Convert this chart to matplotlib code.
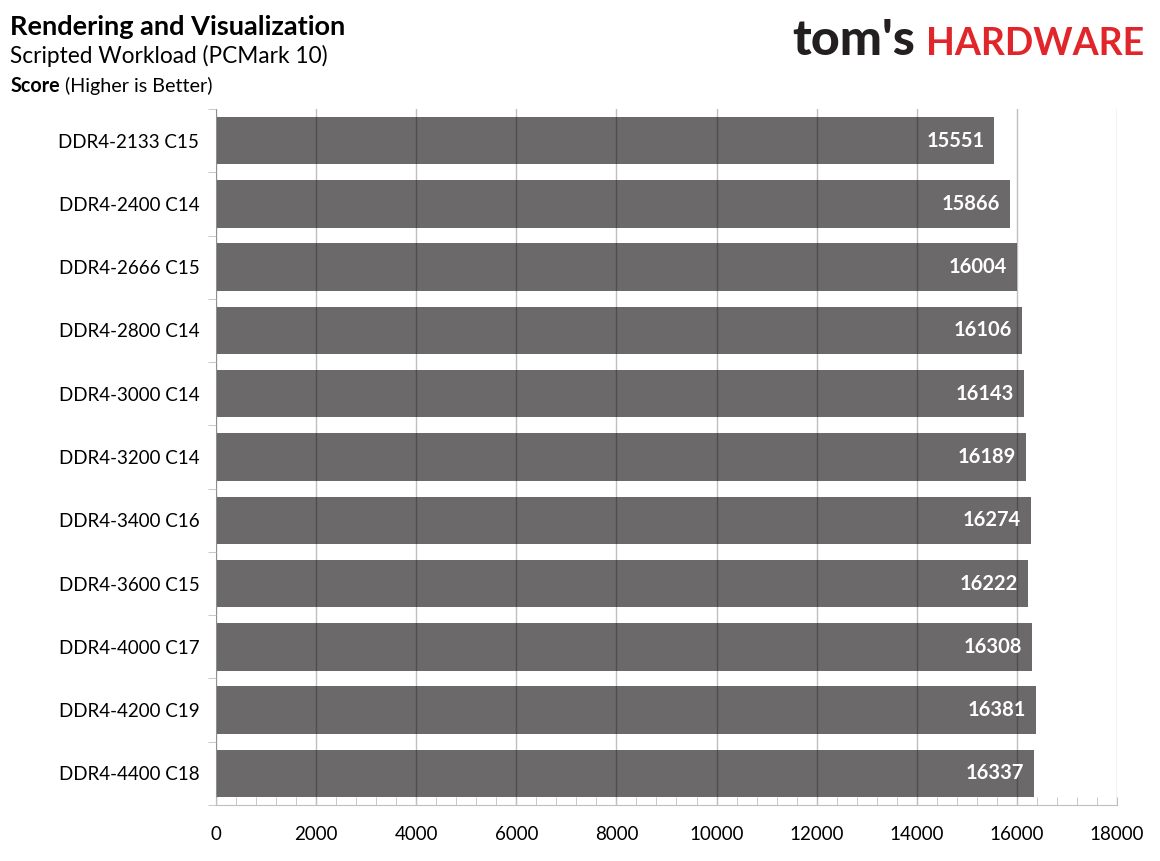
import matplotlib.pyplot as plt
import numpy as np
from matplotlib.ticker import MultipleLocator

plt.rcParams['font.family'] = ['Lato', 'DejaVu Sans']

modules = [
    "DDR4-2133 C15", "DDR4-2400 C14", "DDR4-2666 C15", "DDR4-2800 C14",
    "DDR4-3000 C14", "DDR4-3200 C14", "DDR4-3400 C16", "DDR4-3600 C15",
    "DDR4-4000 C17", "DDR4-4200 C19", "DDR4-4400 C18",
]
scores = [15551, 15866, 16004, 16106, 16143, 16189, 16274, 16222, 16308, 16381, 16337]
x_ticks = [0, 2000, 4000, 6000, 8000, 10000, 12000, 14000, 16000, 18000]

bar_color = "#6b6969"
axis_grey = "#bfbfbf"

fig = plt.figure(figsize=(11.6, 8.61), dpi=100)
ax = fig.add_axes([0.1862, 0.065, 0.9629 - 0.1862, 0.8734 - 0.065])

pos = np.arange(len(modules))
ax.barh(pos, scores, height=0.75, color=bar_color, zorder=1)

for p, v in zip(pos, scores):
    ax.text(v - 200, p, str(v), ha="right", va="center", color="white",
            fontsize=14.5, fontweight="bold", zorder=3)

ax.set_ylim(len(modules) - 0.5, -0.5)
ax.set_xlim(0, 18000)
ax.set_yticks(pos)
ax.set_yticklabels(modules, fontsize=13.5)
ax.set_yticks(np.arange(len(modules) + 1) - 0.5, minor=True)
ax.tick_params(axis="y", which="major", length=0, pad=12)
ax.tick_params(axis="y", which="minor", length=6, color=axis_grey, direction="out")

ax.set_xticks(x_ticks)
ax.set_xticklabels([str(t) for t in x_ticks], fontsize=13.5)
ax.xaxis.set_minor_locator(MultipleLocator(400))
ax.tick_params(axis="x", which="both", length=6, color=axis_grey, direction="in", pad=15)

ax.grid(axis="x", which="major", color="black", alpha=0.25, linewidth=1, zorder=2)
ax.set_axisbelow(False)
for s in ["top", "right"]:
    ax.spines[s].set_visible(False)
for s in ["left", "bottom"]:
    ax.spines[s].set_color(axis_grey)

fig.text(0.009, 0.959, "Rendering and Visualization", fontsize=19.5, fontweight="bold",
         va="baseline", ha="left")
fig.text(0.009, 0.927, "Scripted Workload (PCMark 10)", fontsize=16.3,
         va="baseline", ha="left")
score_txt = fig.text(0.009, 0.893, "Score", fontsize=14.2, fontweight="bold",
                     va="baseline", ha="left")
fig.canvas.draw()
bb = score_txt.get_window_extent().transformed(fig.transFigure.inverted())
fig.text(bb.x1 + 0.004, 0.893, "(Higher is Better)", fontsize=14.2,
         va="baseline", ha="left")

fig.text(0.789, 0.936, "tom's", fontsize=36, fontweight="black", color="#231f20",
         va="baseline", ha="right")
fig.text(0.986, 0.936, "HARDWARE", fontsize=27, fontweight="bold", color="#e0262b",
         va="baseline", ha="right")

fig.savefig("out.png", dpi=100)
